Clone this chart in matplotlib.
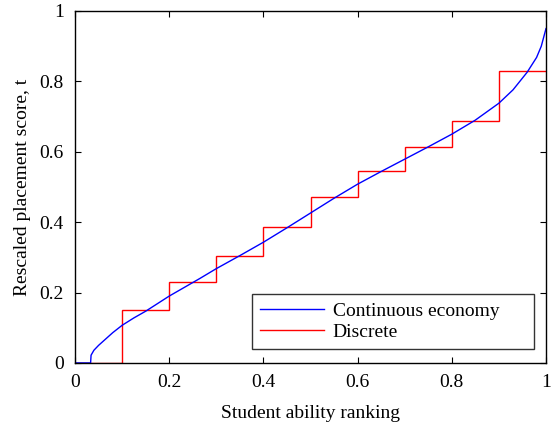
import matplotlib
matplotlib.use("Agg")
import matplotlib.pyplot as plt

plt.rcParams['font.family'] = ['Liberation Serif', 'DejaVu Serif']

# continuous economy curve
cont_x = [0.0, 0.033, 0.034, 0.04, 0.05, 0.06, 0.08, 0.1, 0.125, 0.15, 0.2, 0.265, 0.3, 0.35,
          0.4, 0.45, 0.5, 0.55, 0.6, 0.65, 0.7, 0.75, 0.8, 0.85, 0.9, 0.93, 0.96, 0.98,
          0.99, 1.0]
cont_y = [0.0, 0.0, 0.022, 0.036, 0.05, 0.062, 0.086, 0.107, 0.128, 0.147, 0.19, 0.24, 0.268,
          0.305, 0.343, 0.384, 0.426, 0.468, 0.508, 0.544, 0.579, 0.614, 0.65, 0.69, 0.738,
          0.776, 0.826, 0.868, 0.9, 0.95]

# discrete economy step levels
step_edges = [0.0, 0.1, 0.2, 0.3, 0.4, 0.5, 0.6, 0.7, 0.8, 0.9, 1.0]
step_levels = [0.0, 0.149, 0.229, 0.305, 0.385, 0.471, 0.545, 0.614, 0.688, 0.83]

fig = plt.figure(figsize=(5.56, 4.23), dpi=100)
ax = fig.add_axes([0.135, 0.142, 0.847, 0.832])

ax.plot(cont_x, cont_y, color='b', lw=1.0, label='Continuous economy')
ax.stairs(step_levels, step_edges, color='r', lw=1.0, baseline=None, label='Discrete')

ax.set_xlim(0, 1)
ax.set_ylim(0, 1)
ax.set_xticks([0, 0.2, 0.4, 0.6, 0.8, 1])
ax.set_xticklabels(['0', '0.2', '0.4', '0.6', '0.8', '1'])
ax.set_yticks([0, 0.2, 0.4, 0.6, 0.8, 1])
ax.set_yticklabels(['0', '0.2', '0.4', '0.6', '0.8', '1'])
ax.tick_params(direction='in', top=True, right=True, labelsize=14, length=4, pad=8)
for s in ax.spines.values():
    s.set_linewidth(1.0)

ax.set_xlabel('Student ability ranking', fontsize=14, labelpad=10)
ax.set_ylabel('Rescaled placement score, t', fontsize=14, labelpad=6)

leg = ax.legend(loc='lower left', bbox_to_anchor=(0.376, 0.04, 0.599, 0.16), mode='expand',
                fontsize=14, frameon=True, fancybox=False, edgecolor='k',
                handlelength=3.3, handletextpad=0.45, borderaxespad=0, labelspacing=0.2)
leg.get_frame().set_linewidth(1.0)

fig.savefig('out.png', dpi=100)
